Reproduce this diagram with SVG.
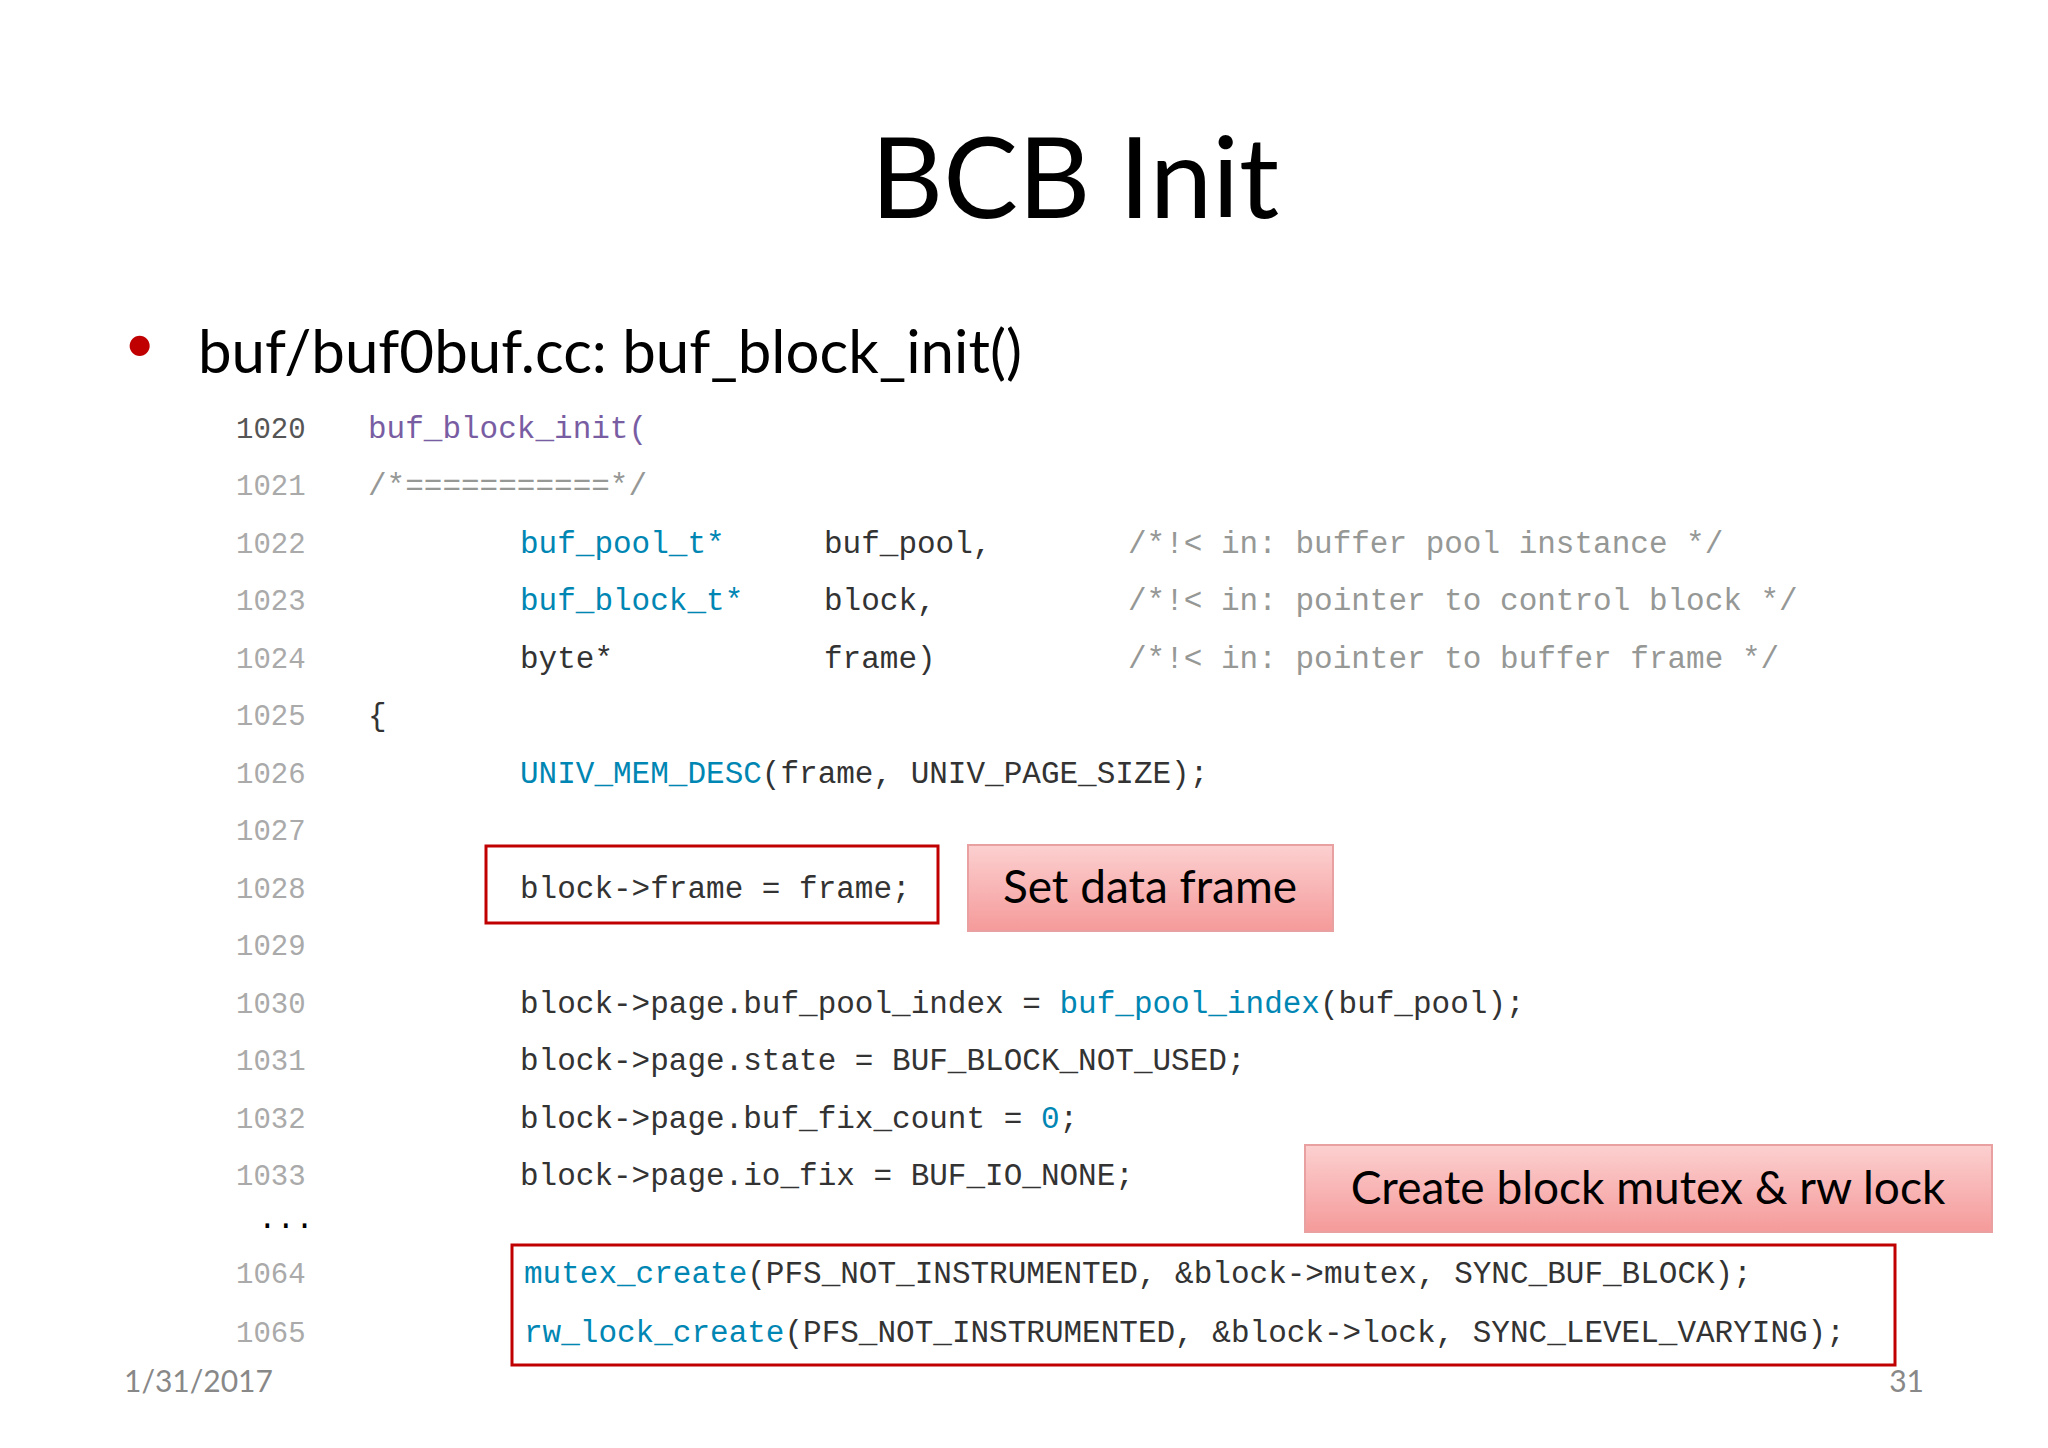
<svg xmlns="http://www.w3.org/2000/svg" width="2048" height="1448" viewBox="0 0 2048 1448">
<defs>
<linearGradient id="pk" x1="0" y1="0" x2="0" y2="1"><stop offset="0" stop-color="#fcd0d0"/><stop offset="1" stop-color="#f59a9a"/></linearGradient>
<style>
.c{font-family:"Liberation Mono",monospace;font-size:31px;fill:#333}
.n{font-family:"Liberation Mono",monospace;font-size:29px;fill:#aaa}
.f{fill:#0086b3}.p{fill:#795da3}.m{fill:#969896}
.s{font-family:Lato,"Open Sans",sans-serif}
.rb{fill:none;stroke:#c00000;stroke-width:3}
.pb{fill:url(#pk);stroke:#e8a0a0;stroke-width:2}
</style>
</defs>
<rect width="2048" height="1448" fill="#fff"/>
<text x="1075" y="218" class="s" font-size="112" text-anchor="middle" fill="#000">BCB Init</text>
<text x="124" y="362" class="s" font-size="54" fill="#c00000">•</text>
<text x="198" y="373" class="s" font-size="60" fill="#000">buf/buf0buf.cc: buf_block_init()</text>
<g id="code">
<text x="236" y="438" class="n" fill="#555" style="fill:#555">1020</text><text x="368" y="438" class="c p">buf_block_init(</text>
<text x="236" y="495" class="n">1021</text><text x="368" y="495" class="c m">/*===========*/</text>
<text x="236" y="553" class="n">1022</text><text x="520" y="553" class="c f">buf_pool_t*</text><text x="824" y="553" class="c">buf_pool,</text><text x="1128" y="553" class="c m">/*!&lt; in: buffer pool instance */</text>
<text x="236" y="610" class="n">1023</text><text x="520" y="610" class="c f">buf_block_t*</text><text x="824" y="610" class="c">block,</text><text x="1128" y="610" class="c m">/*!&lt; in: pointer to control block */</text>
<text x="236" y="668" class="n">1024</text><text x="520" y="668" class="c">byte*</text><text x="824" y="668" class="c">frame)</text><text x="1128" y="668" class="c m">/*!&lt; in: pointer to buffer frame */</text>
<text x="236" y="725" class="n">1025</text><text x="368" y="725" class="c">{</text>
<text x="236" y="783" class="n">1026</text><text x="520" y="783" class="c"><tspan class="f">UNIV_MEM_DESC</tspan>(frame, UNIV_PAGE_SIZE);</text>
<text x="236" y="840" class="n">1027</text>
<text x="236" y="898" class="n">1028</text><text x="520" y="898" class="c">block-&gt;frame = frame;</text>
<text x="236" y="955" class="n">1029</text>
<text x="236" y="1013" class="n">1030</text><text x="520" y="1013" class="c">block-&gt;page.buf_pool_index = <tspan class="f">buf_pool_index</tspan>(buf_pool);</text>
<text x="236" y="1070" class="n">1031</text><text x="520" y="1070" class="c">block-&gt;page.state = BUF_BLOCK_NOT_USED;</text>
<text x="236" y="1128" class="n">1032</text><text x="520" y="1128" class="c">block-&gt;page.buf_fix_count = <tspan class="f">0</tspan>;</text>
<text x="236" y="1185" class="n">1033</text><text x="520" y="1185" class="c">block-&gt;page.io_fix = BUF_IO_NONE;</text>
<text x="258" y="1228" class="c" fill="#000" style="fill:#000">...</text>
<text x="236" y="1283" class="n">1064</text><text x="524" y="1283" class="c"><tspan class="f">mutex_create</tspan>(PFS_NOT_INSTRUMENTED, &amp;block-&gt;mutex, SYNC_BUF_BLOCK);</text>
<text x="236" y="1342" class="n">1065</text><text x="524" y="1342" class="c"><tspan class="f">rw_lock_create</tspan>(PFS_NOT_INSTRUMENTED, &amp;block-&gt;lock, SYNC_LEVEL_VARYING);</text>
</g>
<g id="box1"><rect x="486" y="846" width="452" height="77" class="rb"/></g>
<g id="box2"><rect x="512" y="1245" width="1383" height="120" class="rb"/></g>
<g id="lbl1"><rect x="968" y="845" width="365" height="86" class="pb"/><text x="1150" y="903" class="s" font-size="46" text-anchor="middle" fill="#000">Set data frame</text></g>
<g id="lbl2"><rect x="1305" y="1145" width="687" height="87" class="pb"/><text x="1648" y="1204" class="s" font-size="46" text-anchor="middle" fill="#000">Create block mutex &amp; rw lock</text></g>
<text x="124" y="1392" class="s" font-size="30" fill="#888">1/31/2017</text>
<text x="1924" y="1392" class="s" font-size="30" fill="#888" text-anchor="end">31</text>
</svg>
